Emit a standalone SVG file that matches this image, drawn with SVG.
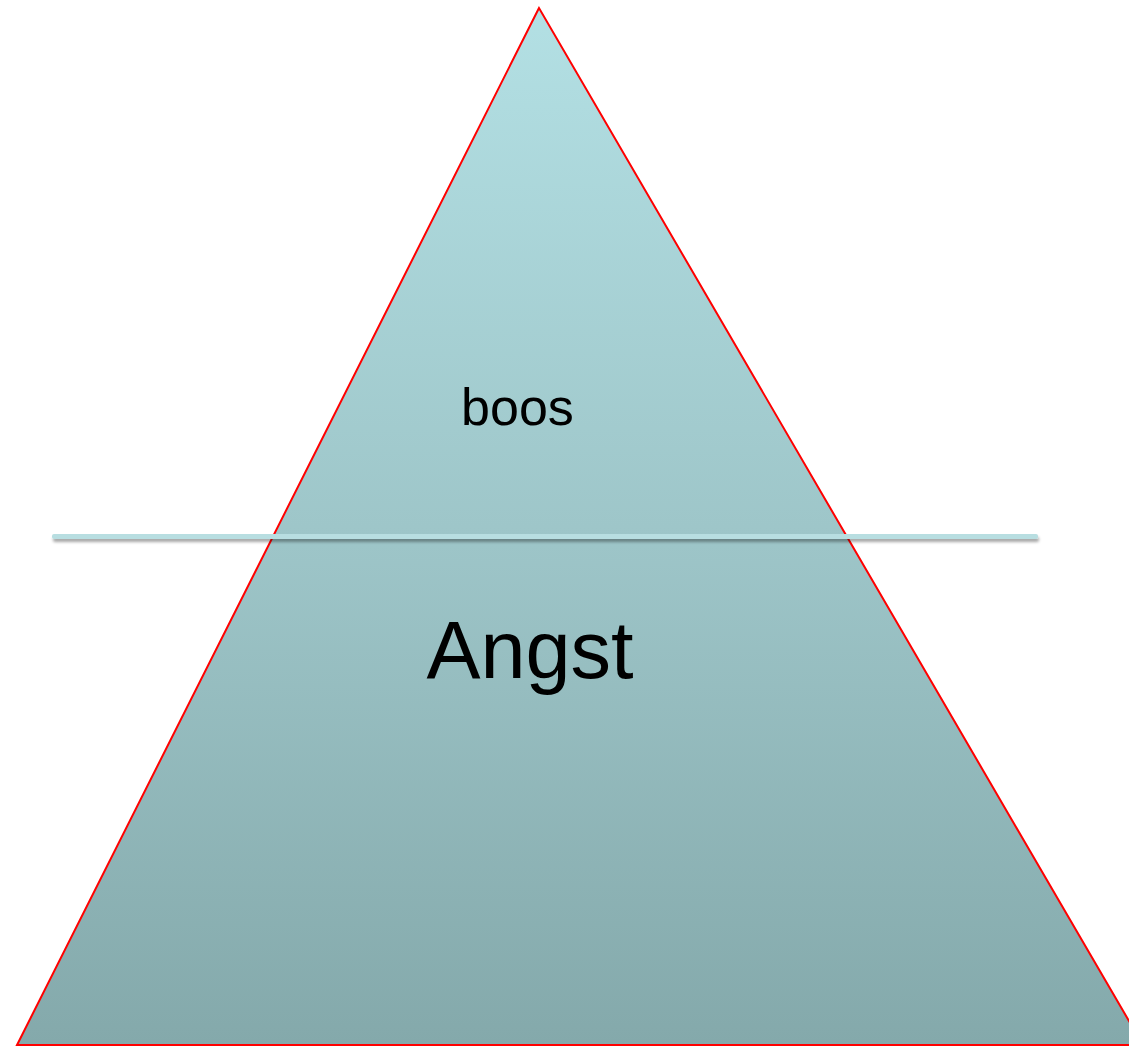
<svg xmlns="http://www.w3.org/2000/svg" width="1129" height="1048" viewBox="0 0 1129 1048">
<defs>
<linearGradient id="fill" x1="0" y1="0" x2="0" y2="1">
<stop offset="0" stop-color="#b3e0e4"/>
<stop offset="0.5" stop-color="#9ec6c9"/>
<stop offset="1" stop-color="#84a9ab"/>
</linearGradient>
<filter id="shadow" filterUnits="userSpaceOnUse" x="30" y="520" width="1030" height="40">
<feGaussianBlur in="SourceAlpha" stdDeviation="1.5"/>
<feOffset dx="1" dy="3" result="b"/>
<feComponentTransfer><feFuncA type="linear" slope="0.35"/></feComponentTransfer>
<feMerge><feMergeNode/><feMergeNode in="SourceGraphic"/></feMerge>
</filter>
<style>
.lbl{font-family:"Liberation Sans",Arial,sans-serif;fill:#000;text-anchor:middle}
</style>
</defs>
<rect width="1129" height="1048" fill="#fff"/>
<g id="pyramid">
<polygon points="539,8 17,1045 1143,1045" fill="url(#fill)" stroke="#ff0000" stroke-width="2"/>
</g>
<g id="divider">
<rect x="52" y="534" width="986" height="5" rx="2" fill="#b8dee1" filter="url(#shadow)"/>
</g>
<g id="label-boos">
<text class="lbl" x="517.5" y="425" font-size="52">boos</text>
</g>
<g id="label-angst">
<text class="lbl" x="530" y="678" font-size="81">Angst</text>
</g>
</svg>
